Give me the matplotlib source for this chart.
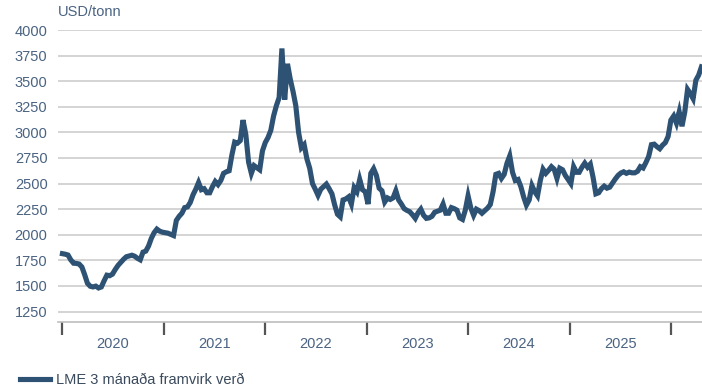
import numpy as np
import pandas as pd
import matplotlib
matplotlib.use("Agg")
import matplotlib.pyplot as plt
import matplotlib.dates as mdates

# LME 3-month aluminium price, USD/tonne, every 10 days
start_date = "2020-01-02"
prices = [
    1815, 1810, 1802, 1755, 1722, 1720, 1714, 1685, 1610, 1526,
    1497, 1490, 1498, 1480, 1490, 1550, 1605, 1600, 1615, 1660,
    1700, 1730, 1760, 1785, 1793, 1800, 1790, 1770, 1755, 1830,
    1840, 1890, 1965, 2020, 2055, 2035, 2025, 2020, 2015, 2003,
    1992, 2140, 2180, 2210, 2265, 2272, 2315, 2390, 2445, 2510,
    2440, 2450, 2410, 2410, 2470, 2520, 2490, 2530, 2600, 2615,
    2625, 2780, 2905, 2895, 2920, 3120, 2980, 2710, 2600, 2675,
    2655, 2635, 2820, 2900, 2950, 3020, 3160, 3260, 3340, 3820,
    3320, 3670, 3520, 3400, 3260, 3000, 2850, 2880, 2740, 2650,
    2500, 2445, 2385, 2445, 2470, 2495, 2450, 2400, 2290, 2200,
    2175, 2340, 2350, 2370, 2300, 2460, 2420, 2540, 2440, 2420,
    2300, 2600, 2645, 2580, 2455, 2430, 2320, 2360, 2345, 2360,
    2430, 2340, 2300, 2255, 2238, 2225, 2195, 2160, 2215, 2250,
    2190, 2160, 2165, 2180, 2220, 2230, 2240, 2300, 2210, 2210,
    2265, 2255, 2240, 2165, 2150, 2240, 2380, 2260, 2190, 2250,
    2235, 2210, 2235, 2260, 2295, 2420, 2590, 2600, 2550, 2590,
    2698, 2770, 2610, 2530, 2540, 2470, 2370, 2290, 2340, 2480,
    2420, 2380, 2530, 2640, 2600, 2630, 2665, 2640, 2550, 2650,
    2635, 2580, 2540, 2500, 2665, 2610, 2610, 2660, 2700, 2660,
    2690, 2560, 2400, 2410, 2450, 2475, 2455, 2465, 2505, 2545,
    2580, 2603, 2615, 2600, 2612, 2605, 2605, 2620, 2665, 2652,
    2705, 2765, 2880, 2885, 2860, 2840, 2875, 2900, 2960, 3120,
    3160, 3090, 3200, 3060, 3200, 3420, 3380, 3330, 3510, 3560,
    3640,
]
series_label = "LME 3 mánaða framvirk verð"
unit_label = "USD/tonn"
years = [2020, 2021, 2022, 2023, 2024, 2025]
y_ticks = [1250, 1500, 1750, 2000, 2250, 2500, 2750, 3000, 3250, 3500, 3750, 4000]

dates = pd.date_range(start_date, periods=len(prices), freq="10D")

plt.rcParams["font.family"] = ["Liberation Sans", "DejaVu Sans"]
text_color = "#4a6382"
line_color = "#2e5273"
fs = 10.5

fig = plt.figure(figsize=(7.02, 3.90), dpi=100)
ax = fig.add_axes([0.0826, 0.175, 0.9174, 0.748])

ax.plot(dates, prices, color=line_color, linewidth=3.7, solid_joinstyle="miter",
        label=series_label, zorder=3)

ax.set_ylim(1150, 4000)
ax.set_xlim(pd.Timestamp("2019-12-17"), pd.Timestamp("2026-04-22"))

ax.set_yticks(y_ticks)
ax.set_yticklabels([str(v) for v in y_ticks])
ax.grid(axis="y", color="#d4d4d4", linewidth=1.4, zorder=0)
ax.tick_params(axis="y", length=0, pad=7.5, labelsize=fs, labelcolor=text_color)

# year boundaries as ticks, year names centred between them
ax.set_xticks([pd.Timestamp(f"{y}-01-01") for y in years + [years[-1] + 1]])
ax.xaxis.set_major_formatter(plt.NullFormatter())
ax.set_xticks([pd.Timestamp(f"{y}-07-02") for y in years], minor=True)
ax.set_xticklabels([str(y) for y in years], minor=True)
ax.tick_params(axis="x", which="major", length=9, width=1.6, color="#555555", direction="out")
ax.tick_params(axis="x", which="minor", length=0, pad=11, labelsize=fs, labelcolor=text_color)

for side in ["top", "right", "left"]:
    ax.spines[side].set_visible(False)
ax.spines["bottom"].set_color("#bdbdbd")
ax.spines["bottom"].set_linewidth(1.2)

fig.text(58 / 702, 1 - 12 / 390, unit_label, color=text_color, fontsize=fs,
         ha="left", va="center")

fig.legend(loc="center left", bbox_to_anchor=(20 / 702, 1 - 380 / 390), frameon=False,
           fontsize=fs, handlelength=2.05, handletextpad=0.42, borderpad=0,
           borderaxespad=0, labelcolor="#3a4a5c")

fig.savefig("out.png", dpi=100)
